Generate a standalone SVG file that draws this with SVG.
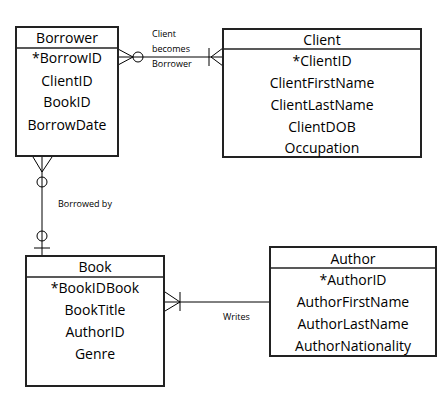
<svg xmlns="http://www.w3.org/2000/svg" width="442" height="419" viewBox="0 0 442 419">
<style>
.box{fill:#fff;stroke:#222;stroke-width:2}
.hd{stroke:#222;stroke-width:1.5}
.t{font-family:"Open Sans","Noto Sans",sans-serif;font-size:14px;fill:#000;text-anchor:middle}
.c{fill:none;stroke:#000;stroke-width:1}
.lb{font-family:"Open Sans","Noto Sans",sans-serif;font-size:9px;fill:#000}
</style>
<rect width="442" height="419" fill="#fff"/>
<g id="connectors">
<line class="c" x1="118" y1="57" x2="223" y2="57"/>
<polyline class="c" points="118,49 133,57 118,65"/>
<circle class="c" cx="138" cy="57" r="5" fill="#fff"/>
<line class="c" x1="209" y1="48" x2="209" y2="66"/>
<polyline class="c" points="223,48 211,57 223,66"/>
<text class="lb" x="152" y="37">Client</text>
<text class="lb" x="152" y="52">becomes</text>
<text class="lb" x="152" y="67">Borrower</text>

<line class="c" x1="42" y1="156" x2="42" y2="256"/>
<polyline class="c" points="33,157 42,172 52,157"/>
<circle class="c" cx="42" cy="182" r="5" fill="#fff"/>
<circle class="c" cx="42" cy="236" r="5" fill="#fff"/>
<line class="c" x1="34" y1="248" x2="50" y2="248"/>
<text class="lb" x="58" y="207">Borrowed by</text>

<line class="c" x1="164" y1="302" x2="270" y2="302"/>
<polyline class="c" points="165,292 180,302 165,311"/>
<line class="c" x1="180" y1="292" x2="180" y2="311"/>
<text class="lb" x="223" y="320">Writes</text>
</g>
<g id="borrower">
<rect class="box" x="16" y="27" width="102" height="129"/>
<line class="hd" x1="16" y1="48" x2="118" y2="48"/>
<text class="t" x="67" y="43">Borrower</text>
<text class="t" x="67" y="63">*BorrowID</text>
<text class="t" x="67" y="86">ClientID</text>
<text class="t" x="67" y="107">BookID</text>
<text class="t" x="67" y="130">BorrowDate</text>
</g>
<g id="client">
<rect class="box" x="223" y="29" width="198" height="128"/>
<line class="hd" x1="223" y1="49" x2="421" y2="49"/>
<text class="t" x="322" y="45">Client</text>
<text class="t" x="322" y="66">*ClientID</text>
<text class="t" x="322" y="88">ClientFirstName</text>
<text class="t" x="322" y="110">ClientLastName</text>
<text class="t" x="322" y="132">ClientDOB</text>
<text class="t" x="322" y="153">Occupation</text>
</g>
<g id="book">
<rect class="box" x="26" y="256" width="138" height="130"/>
<line class="hd" x1="26" y1="277" x2="164" y2="277"/>
<text class="t" x="95" y="272">Book</text>
<text class="t" x="95" y="293">*BookIDBook</text>
<text class="t" x="95" y="315">BookTitle</text>
<text class="t" x="95" y="337">AuthorID</text>
<text class="t" x="95" y="359">Genre</text>
</g>
<g id="author">
<rect class="box" x="270" y="247" width="166" height="109"/>
<line class="hd" x1="270" y1="268" x2="436" y2="268"/>
<text class="t" x="353" y="264">Author</text>
<text class="t" x="353" y="285">*AuthorID</text>
<text class="t" x="353" y="307">AuthorFirstName</text>
<text class="t" x="353" y="329">AuthorLastName</text>
<text class="t" x="353" y="351">AuthorNationality</text>
</g>
</svg>
